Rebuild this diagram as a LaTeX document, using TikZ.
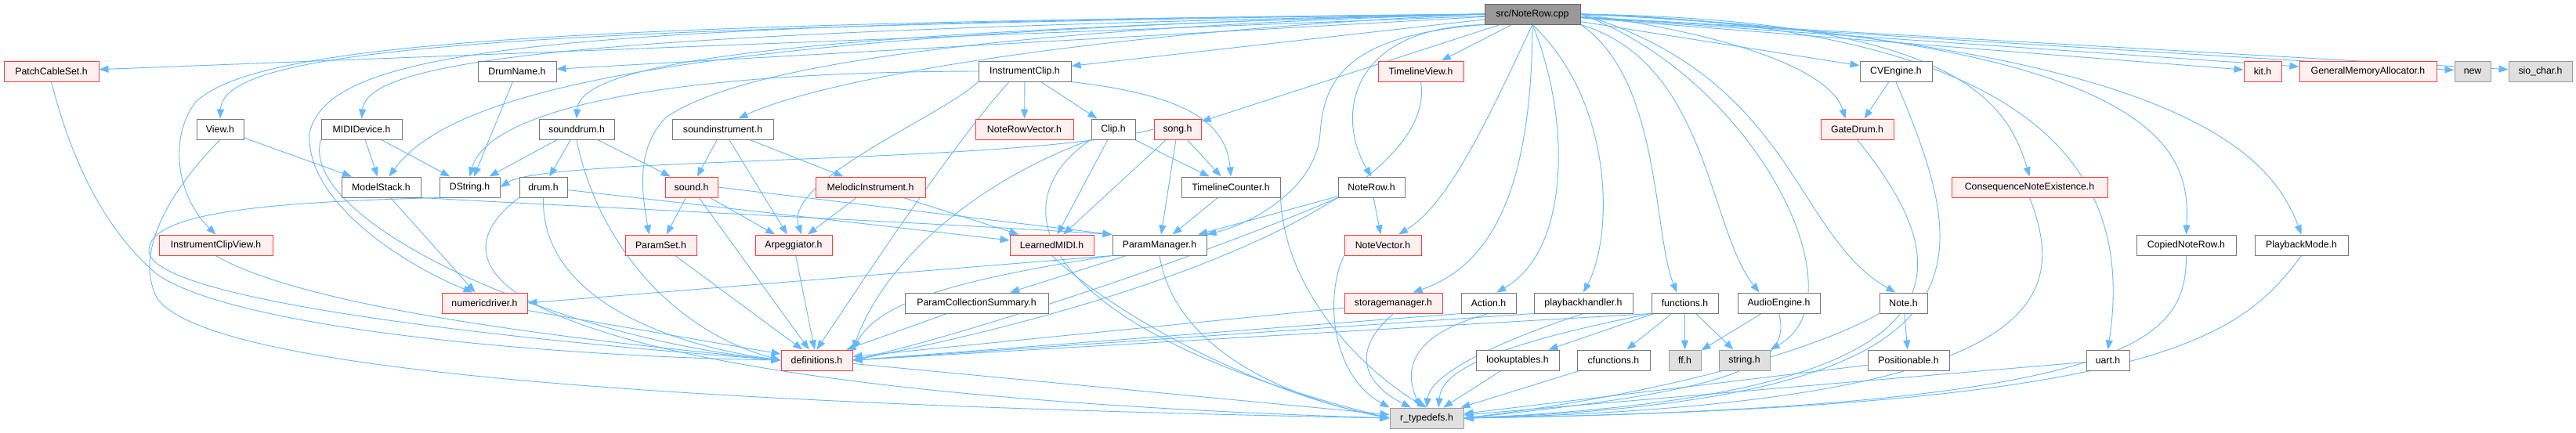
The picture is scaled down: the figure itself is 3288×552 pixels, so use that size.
\documentclass[tikz,border=0pt]{standalone}
\usepackage{fontspec}
\setmainfont{Liberation Sans}
\usetikzlibrary{arrows.meta}
\definecolor{edgec}{HTML}{63B8FF}
\definecolor{nborder}{HTML}{777777}
\definecolor{rborder}{HTML}{FF3B3B}
\definecolor{rfill}{HTML}{FFF0F0}
\definecolor{gborder}{HTML}{999999}
\definecolor{gfill}{HTML}{E0E0E0}
\definecolor{rootfill}{HTML}{999999}
\definecolor{rootborder}{HTML}{666666}
\pgfdeclarelayer{bg}
\pgfsetlayers{bg,main}
\newcommand\nb[6]{\node[#5, minimum width={(#3-#2)*1pt}] (#1) at ({(#2+#3)/2},#4) {#6};}
\begin{document}
\begin{tikzpicture}[x=1pt,y=-1pt,
  box/.style={line width=1pt, minimum height=26pt, inner sep=0pt, font=\fontsize{12.3}{14}\selectfont},
  nn/.style={box, draw=nborder, fill=white},
  rn/.style={box, draw=rborder, fill=rfill},
  gn/.style={box, draw=gborder, fill=gfill},
  rt/.style={box, draw=rootborder, fill=rootfill},
  e/.style={draw=edgec, line width=0.9pt, -{Triangle[length=12pt,width=9pt]}}]
\useasboundingbox (0,0) rectangle (3288,552);
% nodes
\nb{src}{1895}{2017}{18}{rt}{src/NoteRow.cpp}
\nb{pcs}{5}{126}{91}{rn}{PatchCableSet.h}
\nb{drumname}{610}{710}{91}{nn}{DrumName.h}
\nb{iclip}{1249}{1367}{91}{nn}{InstrumentClip.h}
\nb{tlview}{1759}{1868}{91}{rn}{TimelineView.h}
\nb{cvengine}{2374}{2466}{91}{nn}{CVEngine.h}
\nb{kit}{2864}{2912}{91}{rn}{kit.h}
\nb{gma}{2935}{3110}{91}{rn}{GeneralMemoryAllocator.h}
\nb{nw}{3133}{3179}{91}{gn}{new}
\nb{sio}{3202}{3283}{91}{gn}{sio\_char.h}
\nb{view}{251}{311}{165}{nn}{View.h}
\nb{mididev}{410}{513}{165}{nn}{MIDIDevice.h}
\nb{sounddrum}{688}{784}{165}{nn}{sounddrum.h}
\nb{soundinst}{858}{987}{165}{nn}{soundinstrument.h}
\nb{nrvec}{1245}{1370}{165}{rn}{NoteRowVector.h}
\nb{clip}{1393}{1449}{165}{nn}{Clip.h}
\nb{song}{1473}{1533}{165}{rn}{song.h}
\nb{gatedrum}{2324}{2417}{165}{rn}{GateDrum.h}
\nb{modelstack}{436}{537}{239}{nn}{ModelStack.h}
\nb{dstring}{561}{638}{239}{nn}{DString.h}
\nb{drum}{663}{724}{239}{nn}{drum.h}
\nb{sound}{849}{916}{239}{rn}{sound.h}
\nb{melodic}{1041}{1181}{239}{rn}{MelodicInstrument.h}
\nb{tcounter}{1508}{1634}{239}{nn}{TimelineCounter.h}
\nb{noterow}{1708}{1793}{239}{nn}{NoteRow.h}
\nb{cne}{2491}{2690}{239}{rn}{ConsequenceNoteExistence.h}
\nb{icv}{203}{348}{313}{rn}{InstrumentClipView.h}
\nb{paramset}{798}{889}{313}{rn}{ParamSet.h}
\nb{arp}{964}{1062}{313}{rn}{Arpeggiator.h}
\nb{learned}{1289}{1396}{313}{rn}{LearnedMIDI.h}
\nb{pm}{1420}{1540}{313}{nn}{ParamManager.h}
\nb{notevec}{1716}{1814}{313}{rn}{NoteVector.h}
\nb{copied}{2727}{2854}{313}{nn}{CopiedNoteRow.h}
\nb{pbmode}{2878}{2997}{313}{nn}{PlaybackMode.h}
\nb{numdrv}{564}{673}{387}{rn}{numericdriver.h}
\nb{pcsum}{1155}{1338}{387}{nn}{ParamCollectionSummary.h}
\nb{storage}{1716}{1841}{387}{rn}{storagemanager.h}
\nb{action}{1865}{1935}{387}{nn}{Action.h}
\nb{pbh}{1958}{2084}{387}{nn}{playbackhandler.h}
\nb{functions}{2108}{2193}{387}{nn}{functions.h}
\nb{audio}{2218}{2323}{387}{nn}{AudioEngine.h}
\nb{note}{2399}{2460}{387}{nn}{Note.h}
\nb{defs}{997}{1088}{460}{rn}{definitions.h}
\nb{lookup}{1884}{1990}{460}{nn}{lookuptables.h}
\nb{cfunc}{2013}{2106}{460}{nn}{cfunctions.h}
\nb{ff}{2130}{2171}{460}{gn}{ff.h}
\nb{string}{2194}{2259}{460}{gn}{string.h}
\nb{posn}{2384}{2488}{460}{nn}{Positionable.h}
\nb{uart}{2663}{2718}{460}{nn}{uart.h}
\nb{rtd}{1774}{1868}{534}{gn}{r\_typedefs.h}
\begin{pgfonlayer}{bg}
\fill[white] (0,0) rectangle (3288,552);
% src -> row 1
\draw[e] (src) -- (pcs);
\draw[e] (src) -- (drumname);
\draw[e] (src) -- (iclip);
\draw[e] (src) -- (tlview);
\draw[e] (src) -- (cvengine);
\draw[e] (src) -- (kit);
\draw[e] (src) -- (gma);
\draw[e] (src) -- (nw);
\draw[e] (src) -- (sio);
\draw[e] (src) -- (song);
% src curves, left
\draw[e] (src.west) .. controls (650,35) and (285,60) .. (view.north);
\draw[e] (src.west) .. controls (700,30) and (330,55) .. (250,130) .. controls (215,175) and (225,250) .. (icv.north);
\draw[e] (src.west) .. controls (800,40) and (470,70) .. (mididev.north);
\draw[e] (src.west) .. controls (900,40) and (580,110) .. ([xshift=10pt]modelstack.north);
\draw[e] (src.west) .. controls (700,30) and (420,60) .. (395,170) .. controls (390,260) and (520,340) .. ([xshift=-15pt]numdrv.north);
\draw[e] (src.west) .. controls (1000,40) and (740,80) .. (sounddrum.north);
\draw[e] (src.west) .. controls (1400,40) and (1050,100) .. ([xshift=20pt]soundinst.north);
\draw[e] (src.west) .. controls (1300,35) and (950,80) .. (850,150) .. controls (810,190) and (820,250) .. ([xshift=-15pt]paramset.north);
\draw[e] (src.south west) .. controls (1720,35) and (1705,150) .. (noterow.north);
\draw[e] (src.south west) .. controls (1720,45) and (1690,100) .. (1685,170) .. controls (1680,240) and (1600,285) .. (pm.north east);
% src curves, down
\draw[e] (src.south) .. controls (1900,150) and (1850,260) .. ([xshift=20pt]notevec.north);
\draw[e] (src.south) .. controls (1955,250) and (1900,340) .. ([xshift=25pt]storage.north);
\draw[e] (src.south) .. controls (2005,150) and (2005,320) .. ([xshift=10pt]action.north);
\draw[e] (src.south) .. controls (2060,130) and (2060,300) .. (pbh.north);
\draw[e] (src.south east) .. controls (2120,100) and (2110,300) .. ([xshift=-10pt]functions.north);
\draw[e] (src.south east) .. controls (2180,80) and (2180,290) .. ([xshift=-25pt]audio.north);
% src curves, right
\draw[e] (src.east) .. controls (2240,100) and (2380,380) .. (string.north east);
\draw[e] (src.east) .. controls (2290,100) and (2290,300) .. ([xshift=-10pt]note.north);
\draw[e] (src.east) .. controls (2250,50) and (2340,100) .. ([xshift=-15pt]gatedrum.north);
\draw[e] (src.east) .. controls (2480,25) and (2560,120) .. (cne.north);
\draw[e] (src.east) .. controls (2650,35) and (2720,250) .. (uart.north);
\draw[e] (src.east) .. controls (2780,50) and (2795,200) .. (copied.north);
\draw[e] (src.east) .. controls (2790,55) and (2900,200) .. (pbmode.north);
% left part
\draw[e] (pcs.south) .. controls (90,200) and (130,290) .. (200,350) .. controls (300,420) and (700,455) .. (defs.west);
\draw[e] (view) -- (modelstack);
\draw[e] (view.south) .. controls (220,240) and (170,320) .. (200,380) .. controls (260,470) and (800,515) .. (rtd.west);
\draw[e] (icv.south) .. controls (400,400) and (800,440) .. (defs.west);
\draw[e] (mididev) -- (modelstack);
\draw[e] (mididev) -- (dstring);
\draw[e] (mididev.south west) .. controls (380,280) and (700,430) .. (defs.west);
\draw[e] (modelstack) -- (numdrv);
\draw[e] (modelstack.south east) .. controls (700,262) and (1200,285) .. (pm.north west);
\draw[e] (dstring.south west) .. controls (350,258) and (190,270) .. (190,320) .. controls (190,380) and (600,430) .. (defs.west);
\draw[e] (drumname) -- (dstring);
% middle
\draw[e] (iclip.west) .. controls (800,92) and (620,150) .. (dstring.north);
\draw[e] (iclip.south west) .. controls (1200,150) and (1000,230) .. ([xshift=10pt]arp.north);
\draw[e] (iclip) -- (nrvec);
\draw[e] (iclip) -- (clip);
\draw[e] (iclip.south east) .. controls (1500,120) and (1565,150) .. (tcounter.north);
\draw[e] ([xshift=-20pt]iclip.south) .. controls (1220,180) and (1120,330) .. (defs.north);
\draw[e] (sounddrum) -- (dstring);
\draw[e] (sounddrum) -- (drum);
\draw[e] (sounddrum) -- (sound);
\draw[e] (sounddrum.south) .. controls (760,300) and (850,420) .. (defs.west);
\draw[e] (soundinst) -- (sound);
\draw[e] (soundinst) -- (arp);
\draw[e] (soundinst) -- (melodic);
\draw[e] (drum) -- (learned);
\draw[e] (drum.south) .. controls (690,380) and (850,440) .. (defs.west);
\draw[e] (drum.south west) .. controls (520,360) and (700,500) .. (rtd.west);
\draw[e] (sound) -- (paramset);
\draw[e] (sound) -- (arp);
\draw[e] (sound) -- (defs);
\draw[e] (sound.east) -- (pm.north west);
\draw[e] (melodic) -- (arp);
\draw[e] (melodic) -- (learned);
\draw[e] (clip) -- (tcounter);
\draw[e] (clip) -- (learned);
\draw[e] (clip.south west) .. controls (1250,230) and (1130,330) .. (defs.north east);
\draw[e] (clip.south west) .. controls (1270,260) and (1320,420) .. (rtd.west);
\draw[e] (song.west) .. controls (1300,210) and (700,200) .. (dstring.east);
\draw[e] (song) -- (learned);
\draw[e] (song) -- (pm);
\draw[e] (song) -- (tcounter);
\draw[e] (tcounter) -- (pm);
\draw[e] (tcounter.south east) .. controls (1640,380) and (1750,480) .. (rtd.north);
\draw[e] (noterow) -- (pm);
\draw[e] (noterow) -- (notevec);
\draw[e] (noterow.south west) .. controls (1600,300) and (1300,410) .. (defs.east);
\draw[e] (paramset) -- (defs);
\draw[e] (arp) -- (defs);
\draw[e] (numdrv) -- (defs);
\draw[e] (learned.south) .. controls (1420,400) and (1600,500) .. (rtd.west);
\draw[e] (pm.south west) -- (numdrv.east);
\draw[e] (pm) -- (pcsum);
\draw[e] (pm.south west) .. controls (1200,360) and (1120,390) .. (defs.north east);
\draw[e] (pm.south) .. controls (1500,450) and (1650,510) .. (rtd.west);
\draw[e] (pcsum) -- (defs);
\draw[e] (tlview.south) .. controls (1835,240) and (1500,380) .. (defs.east);
\draw[e] (defs) -- (rtd);
% right part
\draw[e] (notevec.south west) .. controls (1690,380) and (1700,480) .. (rtd.north west);
\draw[e] (storage) -- (defs);
\draw[e] (storage.south) .. controls (1710,460) and (1760,500) .. ([xshift=-20pt]rtd.north);
\draw[e] (action.south west) -- (defs.east);
\draw[e] (action.south) .. controls (1790,430) and (1795,480) .. ([xshift=-8pt]rtd.north);
\draw[e] (pbh.south west) -- (defs.east);
\draw[e] (pbh.south) .. controls (1900,440) and (1825,480) .. (rtd.north);
\draw[e] (functions.south west) -- (defs.east);
\draw[e] (functions.south west) .. controls (1880,445) and (1840,480) .. ([xshift=15pt]rtd.north);
\draw[e] (functions) -- (lookup);
\draw[e] (functions) -- (cfunc);
\draw[e] (functions) -- (ff);
\draw[e] (functions) -- (string);
\draw[e] (lookup) -- (rtd);
\draw[e] (cfunc) -- (rtd);
\draw[e] (audio) -- (ff);
\draw[e] (audio.south) .. controls (2290,470) and (2200,500) .. (rtd.east);
\draw[e] (note) -- (posn);
\draw[e] (note.south west) .. controls (2330,440) and (2150,500) .. (rtd.east);
\draw[e] (posn) -- (rtd);
\draw[e] (cvengine) -- (gatedrum);
\draw[e] (cvengine.south) .. controls (2520,340) and (2560,510) .. (rtd.east);
\draw[e] (gatedrum.south) .. controls (2510,350) and (2520,505) .. (rtd.east);
\draw[e] (cne.south) .. controls (2640,380) and (2620,515) .. (rtd.east);
\draw[e] (uart) -- (rtd);
\draw[e] (copied.south) .. controls (2790,430) and (2740,520) .. (rtd.east);
\draw[e] (pbmode.south) .. controls (2860,430) and (2760,520) .. (rtd.east);
\end{pgfonlayer}
\end{tikzpicture}
\end{document}
